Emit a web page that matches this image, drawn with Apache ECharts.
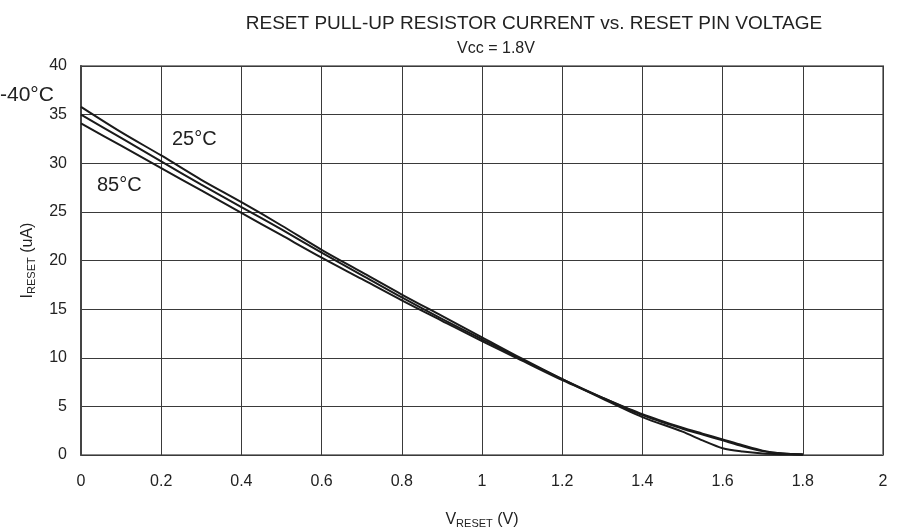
<!DOCTYPE html>
<html>
<head>
<meta charset="utf-8">
<title>RESET pull-up resistor current</title>
<script src="https://cdn.jsdelivr.net/npm/echarts@6/dist/echarts.min.js"></script>
<style>
    html, body { margin: 0; padding: 0; background: #fff; }
    #chart { width: 914px; height: 527px; }
</style>
</head>
<body>
<div id="chart"></div>
<script>
// 横轴电压 (V)
var vReset = [0, 0.1, 0.2, 0.3, 0.4, 0.5, 0.6, 0.7, 0.8, 0.9, 1.0, 1.1, 1.2, 1.3, 1.4, 1.5, 1.55, 1.6, 1.65, 1.7, 1.75, 1.8];
// 各温度下的电流 (uA)
var iMinus40 = [35.8, 33.2, 30.8, 28.3, 26.0, 23.6, 21.1, 18.8, 16.5, 14.3, 12.1, 9.9, 7.8, 5.8, 3.9, 2.4, 1.5, 0.7, 0.35, 0.15, 0.08, 0.05];
var i25 = [35.0, 32.6, 30.2, 27.8, 25.5, 23.2, 20.8, 18.5, 16.2, 14.0, 11.9, 9.8, 7.8, 5.9, 4.1, 2.7, 2.1, 1.5, 0.9, 0.4, 0.15, 0.05];
var i85 = [34.1, 31.8, 29.5, 27.2, 24.9, 22.6, 20.3, 18.1, 15.9, 13.8, 11.7, 9.7, 7.7, 5.9, 4.2, 2.8, 2.2, 1.6, 1.0, 0.45, 0.15, 0.05];
var seriesNames = ['-40°C', '25°C', '85°C'];

var FONT = '"Liberation Sans", Arial, sans-serif';

function pairs(ys) {
    return vReset.map(function (v, i) { return [v, ys[i]]; });
}

var chart = echarts.init(document.getElementById('chart'));

var option = {
    animation: false,
    textStyle: { fontFamily: FONT },
    title: [{
        text: 'RESET PULL-UP RESISTOR CURRENT vs. RESET PIN VOLTAGE',
        left: 529,
        textAlign: 'center',
        top: 9,
        textStyle: { fontFamily: FONT, fontSize: 19, fontWeight: 'normal', color: '#222' }
    }, {
        text: 'Vcc = 1.8V',
        left: 491,
        textAlign: 'center',
        top: 36,
        textStyle: { fontFamily: FONT, fontSize: 16, fontWeight: 'normal', color: '#222' }
    }],
    grid: {
        left: 81, right: 31, top: 66, bottom: 72,
        containLabel: false,
        outerBoundsMode: 'none',
        show: true,
        borderColor: '#8a8a8a',
        borderWidth: 2
    },
    xAxis: {
        type: 'value',
        min: 0, max: 2, interval: 0.2,
        name: '{n|V}{s|RESET}{n| (V)}',
        nameLocation: 'middle',
        nameGap: 56,
        nameTextStyle: {
            rich: {
                n: { fontFamily: FONT, fontSize: 16, color: '#222' },
                s: { fontFamily: FONT, fontSize: 11, color: '#222', verticalAlign: 'bottom', padding: [7, 0, 0, 0] }
            }
        },
        axisLine: { show: false },
        axisTick: { show: false },
        axisLabel: { fontFamily: FONT, fontSize: 16, color: '#222', margin: 19 },
        splitLine: { lineStyle: { color: '#3a3a3a', width: 1 } }
    },
    yAxis: {
        type: 'value',
        min: 0, max: 40, interval: 5,
        name: '{n|I}{s|RESET}{n| (uA)}',
        nameLocation: 'middle',
        nameRotate: 90,
        nameGap: 44,
        nameTextStyle: {
            rich: {
                n: { fontFamily: FONT, fontSize: 16, color: '#222' },
                s: { fontFamily: FONT, fontSize: 11, color: '#222', verticalAlign: 'bottom', padding: [7, 0, 0, 0] }
            }
        },
        axisLine: { show: true, lineStyle: { color: '#444', width: 2 } },
        axisTick: { show: false },
        axisLabel: { fontFamily: FONT, fontSize: 16, color: '#222', margin: 14 },
        splitLine: { lineStyle: { color: '#3a3a3a', width: 1 } }
    },
    graphic: [
        { type: 'text', left: 0, top: 85, style: { text: '-40°C', font: '21px ' + FONT, fill: '#222' } },
        { type: 'text', left: 172, top: 129, style: { text: '25°C', font: '20px ' + FONT, fill: '#222' } },
        { type: 'text', left: 97, top: 175, style: { text: '85°C', font: '20px ' + FONT, fill: '#222' } }
    ],
    series: [iMinus40, i25, i85].map(function (ys, k) {
        return {
            name: seriesNames[k],
            type: 'line',
            data: pairs(ys),
            smooth: 0.3,
            showSymbol: false,
            lineStyle: { color: '#1a1a1a', width: 2 }
        };
    })
};

chart.setOption(option);
</script>
</body>
</html>
